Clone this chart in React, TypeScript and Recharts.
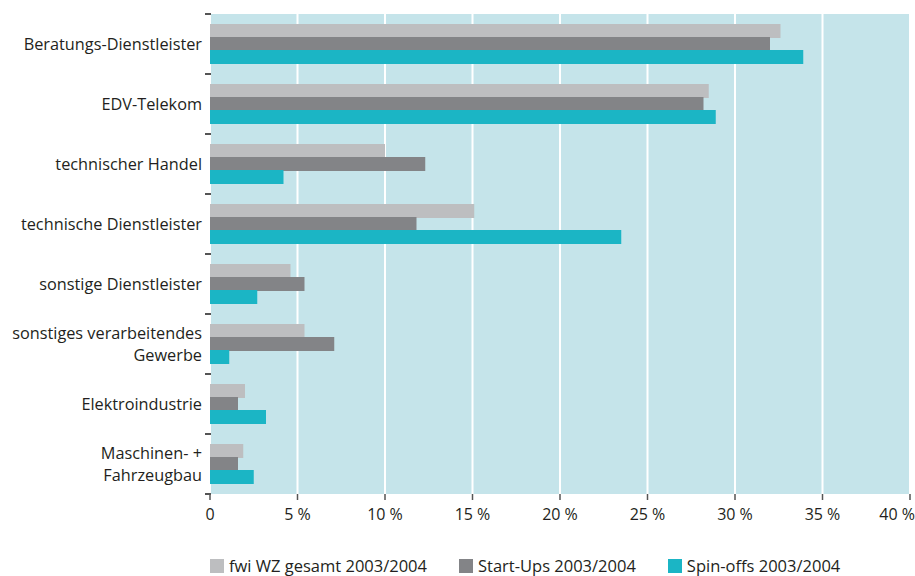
import React from "react";
import { BarChart, Bar, XAxis, YAxis, CartesianGrid, Legend } from "recharts";

const categories = [
  "Beratungs-Dienstleister",
  "EDV-Telekom",
  "technischer Handel",
  "technische Dienstleister",
  "sonstige Dienstleister",
  "sonstiges verarbeitendes\nGewerbe",
  "Elektroindustrie",
  "Maschinen- +\nFahrzeugbau",
];
const fwiGesamt = [32.6, 28.5, 10.0, 15.1, 4.6, 5.4, 2.0, 1.9];
const startUps = [32.0, 28.2, 12.3, 11.8, 5.4, 7.1, 1.6, 1.6];
const spinOffs = [33.9, 28.9, 4.2, 23.5, 2.7, 1.1, 3.2, 2.5];
const xTicks = [0, 5, 10, 15, 20, 25, 30, 35, 40];
const seriesNames = ["fwi WZ gesamt 2003/2004", "Start-Ups 2003/2004", "Spin-offs 2003/2004"];

const COLORS = ["#bdbec0", "#838487", "#1bb5c5"];
const FONT = "'Open Sans', sans-serif";
const TEXT = "#231f20";

const data = categories.map((name, i) => ({
  name,
  fwi: fwiGesamt[i],
  start: startUps[i],
  spin: spinOffs[i],
}));

const HALF_BAND = 30;

const YTick = (props: any) => {
  const { x, y, payload, index, visibleTicksCount } = props;
  const lines = String(payload.value).split("\n");
  const lh = 22;
  const startY = y - ((lines.length - 1) * lh) / 2;
  return (
    <g>
      <line x1={x + 3} x2={x + 9} y1={y - HALF_BAND} y2={y - HALF_BAND} stroke="#555" strokeWidth={2} />
      {index === visibleTicksCount - 1 && (
        <line x1={x + 3} x2={x + 9} y1={y + HALF_BAND} y2={y + HALF_BAND} stroke="#555" strokeWidth={2} />
      )}
      <text x={x} y={startY} textAnchor="end" fontFamily={FONT} fontSize={16.3} fill={TEXT}>
        {lines.map((l, i) => (
          <tspan key={i} x={x} y={startY + i * lh} dy="0.35em">
            {l}
          </tspan>
        ))}
      </text>
    </g>
  );
};

const XTick = (props: any) => {
  const { x, y, payload, index, visibleTicksCount } = props;
  const v = payload.value;
  const label = v === 0 ? "0" : `${v} %`;
  const last = index === visibleTicksCount - 1;
  return (
    <text
      x={last ? x + 5 : x}
      y={y}
      dy="0.9em"
      textAnchor={last ? "end" : "middle"}
      fontFamily={FONT}
      fontSize={16}
      fill={TEXT}
    >
      {label}
    </text>
  );
};

const LegendContent = () => (
  <div
    style={{
      display: "flex",
      alignItems: "center",
      paddingLeft: 210,
      paddingTop: 33,
      fontFamily: FONT,
      fontSize: 16.5,
      lineHeight: "18px",
      color: TEXT,
    }}
  >
    {seriesNames.map((n, i) => (
      <div key={n} style={{ display: "flex", alignItems: "center", marginRight: 32 }}>
        <div style={{ width: 14, height: 14, background: COLORS[i], marginRight: 5 }} />
        <span>{n}</span>
      </div>
    ))}
  </div>
);

export default function App() {
  return (
    <div style={{ position: "absolute", left: 0, top: 0, width: 915, height: 576, background: "#fff" }}>
      <BarChart
        width={915}
        height={576}
        data={data}
        layout="vertical"
        margin={{ top: 14, right: 5, left: 0, bottom: 0 }}
        barSize={14}
        barGap={-1}
        barCategoryGap={20}
      >
        <CartesianGrid horizontal={false} stroke="#ffffff" strokeWidth={2} fill="#c5e4ea" />
        <XAxis
          type="number"
          domain={[0, 40]}
          ticks={xTicks}
          interval={0}
          axisLine={false}
          tickLine={{ stroke: "#555", strokeWidth: 1.5 }}
          tickSize={6}
          tickMargin={6}
          height={30}
          tick={<XTick />}
        />
        <YAxis
          type="category"
          dataKey="name"
          width={210}
          axisLine={false}
          tickLine={false}
          interval={0}
          tick={<YTick />}
        />
        <Legend verticalAlign="bottom" height={52} content={<LegendContent />} wrapperStyle={{ left: 0, width: 915 }} />
        <Bar dataKey="fwi" name={seriesNames[0]} fill={COLORS[0]} isAnimationActive={false} />
        <Bar dataKey="start" name={seriesNames[1]} fill={COLORS[1]} isAnimationActive={false} />
        <Bar dataKey="spin" name={seriesNames[2]} fill={COLORS[2]} isAnimationActive={false} />
      </BarChart>
    </div>
  );
}
